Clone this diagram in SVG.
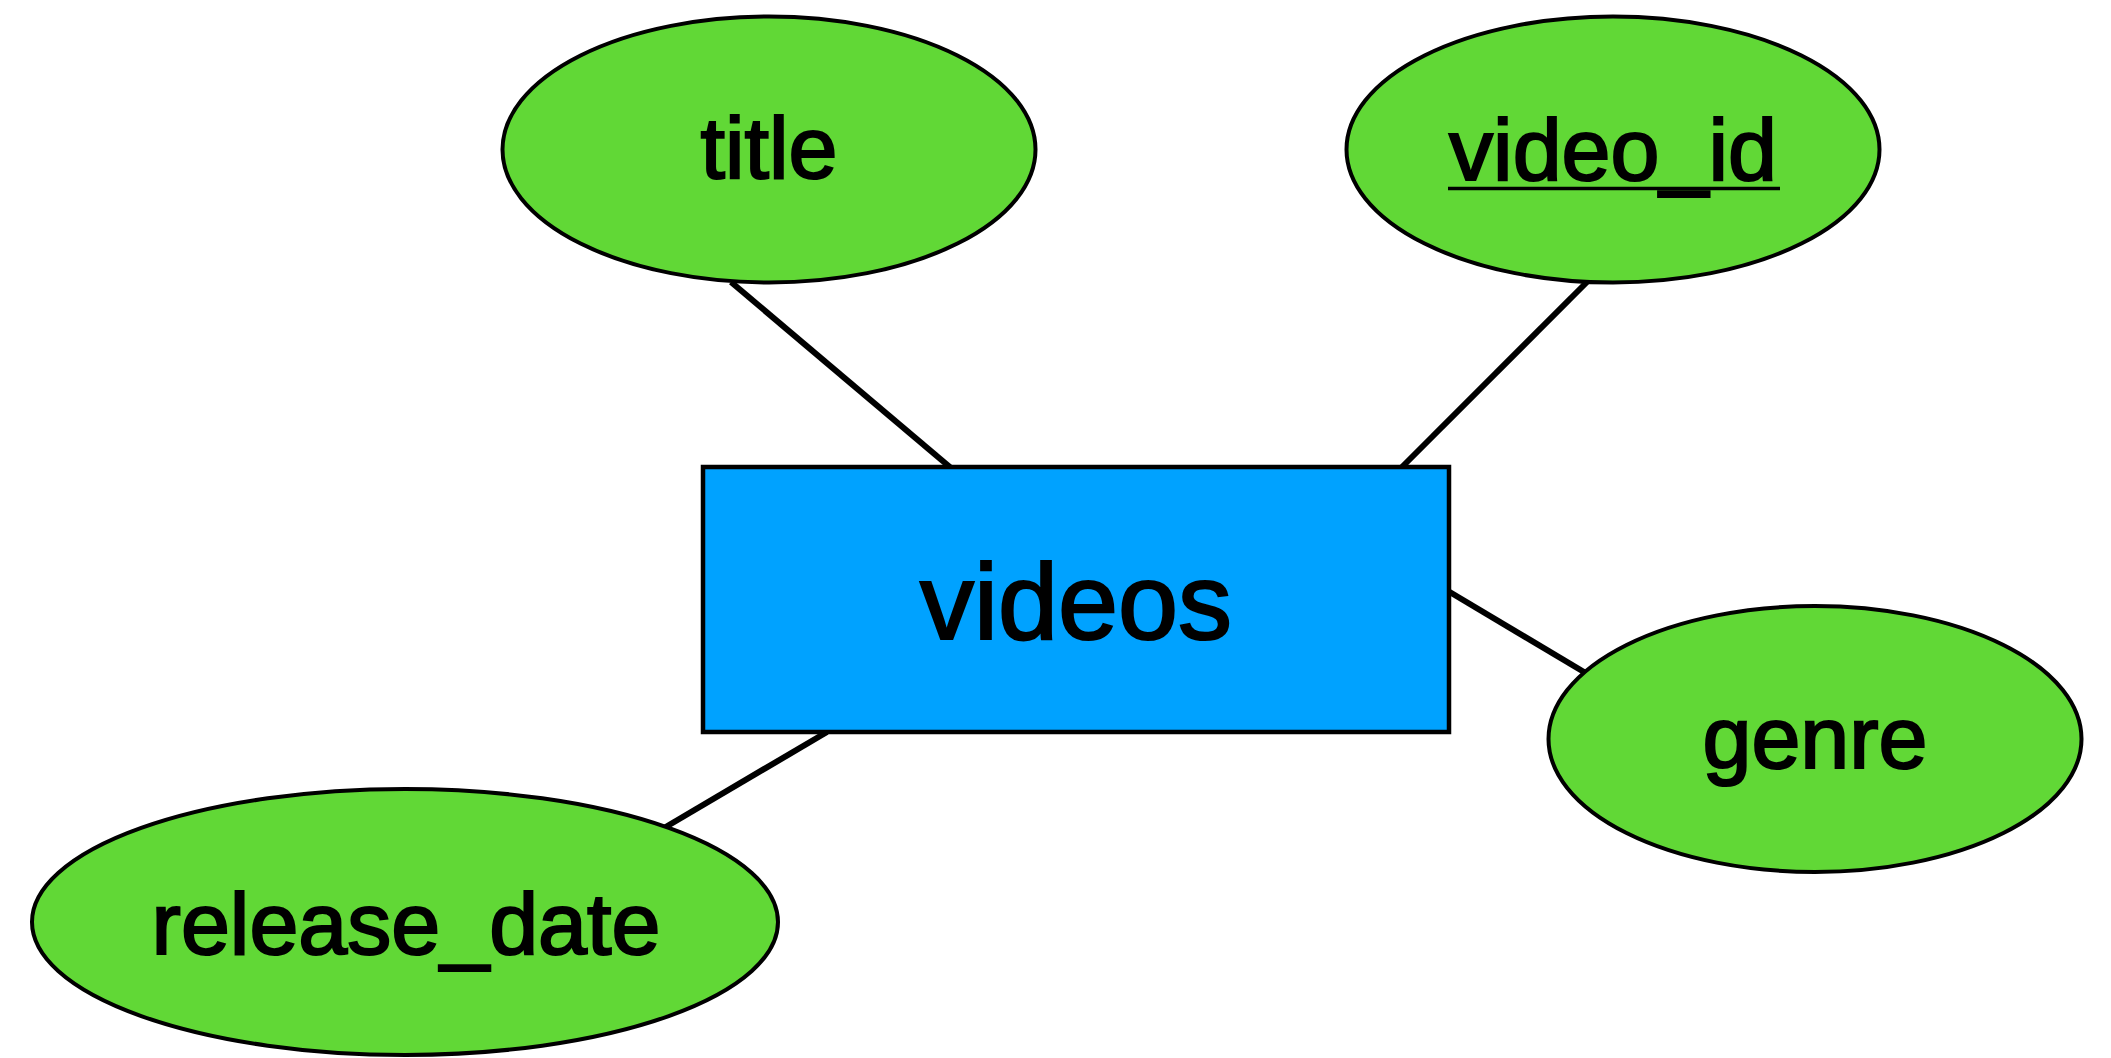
<svg xmlns="http://www.w3.org/2000/svg" width="2111" height="1058" viewBox="0 0 2111 1058">
<style>
.attr ellipse{fill:#61D836;stroke:#000;stroke-width:4}
.ent rect{fill:#00A2FF;stroke:#000;stroke-width:4.5}
text{font-family:"Liberation Sans",Arial,Helvetica,sans-serif;fill:#000;stroke:#000;stroke-width:2.2;text-anchor:middle}
.at{font-size:88px}
.et{font-size:108px}
#connectors line{stroke:#000;stroke-width:6}
</style>
<rect width="2111" height="1058" fill="#fff"/>
<g id="connectors">
<line x1="731" y1="282" x2="951" y2="468"/>
<line x1="1587" y1="282" x2="1401" y2="468"/>
<line x1="1448" y1="591" x2="1584" y2="672"/>
<line x1="827" y1="732" x2="664" y2="828"/>
</g>
<g id="title" class="attr">
<ellipse cx="769" cy="149.5" rx="266.5" ry="133"/>
<text class="at" x="769" y="178">title</text>
</g>
<g id="video_id" class="attr">
<ellipse cx="1613" cy="149.5" rx="266.5" ry="133"/>
<text class="at" x="1613" y="180">video_id</text>
<line x1="1448" y1="188.5" x2="1780" y2="188.5" stroke="#000" stroke-width="3.5"/>
</g>
<g id="videos" class="ent">
<rect x="703" y="467" width="746" height="265"/>
<text class="et" x="1076" y="639">videos</text>
</g>
<g id="genre" class="attr">
<ellipse cx="1815" cy="739" rx="266.5" ry="133"/>
<text class="at" x="1815" y="768">genre</text>
</g>
<g id="release_date" class="attr">
<ellipse cx="405" cy="922" rx="373" ry="133"/>
<text class="at" x="406" y="954">release_date</text>
</g>
</svg>
